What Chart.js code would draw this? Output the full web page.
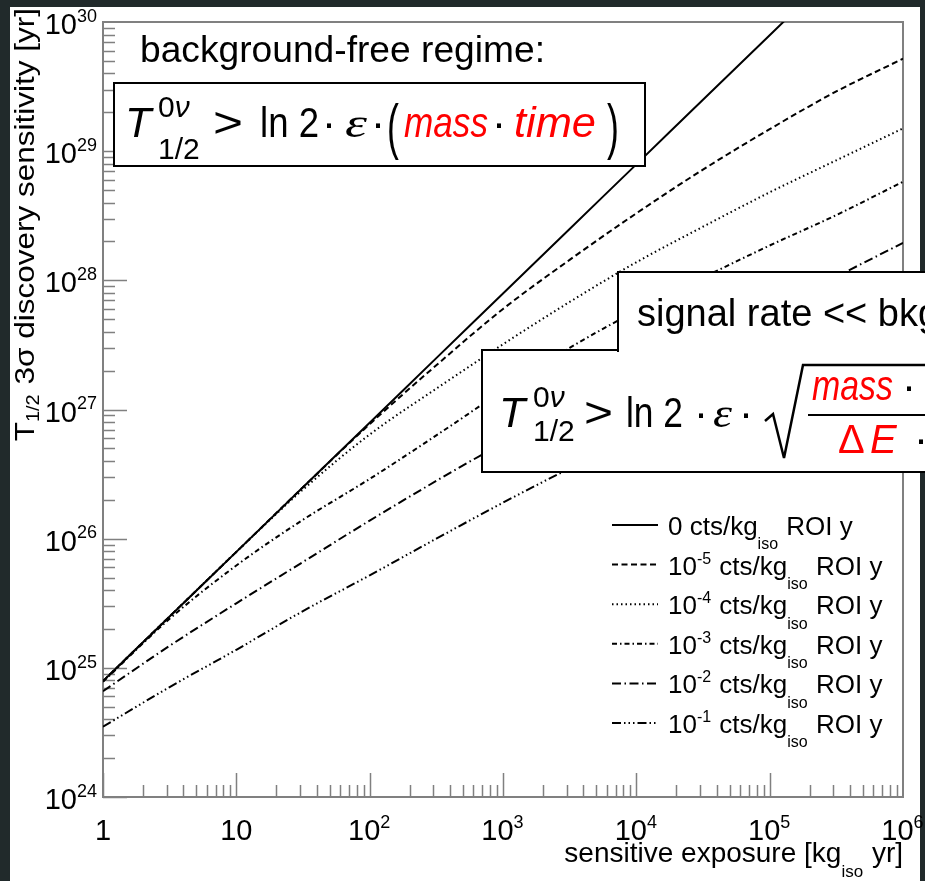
<!DOCTYPE html>
<html>
<head>
<meta charset="utf-8">
<title>T1/2 3 sigma discovery sensitivity</title>
<script src="https://cdn.jsdelivr.net/npm/chart.js@4.4.1/dist/chart.umd.min.js"></script>
<style>
  html, body { margin: 0; padding: 0; width: 925px; height: 881px; overflow: hidden; background: #212a2b; }
  #sheet { position: absolute; left: 10px; top: 7px; width: 910px; height: 874px; background: #fff; }
  #chart { position: absolute; left: 0; top: 0; }
  #notes { position: absolute; left: 0; top: 0; }
  #notes text { font-family: "Liberation Sans", Arial, sans-serif; fill: #000; }
  #notes .it { font-style: italic; }
  #notes .red { fill: #ff0000; }
  #notes .serif { font-family: "Liberation Serif", serif; }
</style>
</head>
<body>
<div id="sheet"></div>
<canvas id="chart" width="925" height="881"></canvas>
<svg id="notes" width="925" height="881" xmlns="http://www.w3.org/2000/svg">
  <text x="140" y="62" font-size="36" textLength="405" lengthAdjust="spacingAndGlyphs">background-free regime:</text>

  <rect x="114" y="83" width="531" height="83" fill="#fff" stroke="#000" stroke-width="2"/>
  <text x="125" y="137" font-size="43" class="it">T</text>
  <text x="158" y="117" font-size="30">0<tspan class="it">ν</tspan></text>
  <text x="158" y="159" font-size="30">1/2</text>
  <text x="213" y="137" font-size="42" textLength="30" lengthAdjust="spacingAndGlyphs">&gt;</text>
  <text x="260" y="137" font-size="42" textLength="59" lengthAdjust="spacingAndGlyphs">ln 2</text>
  <text x="322" y="137" font-size="42">·</text>
  <text x="345" y="137" font-size="42" class="it serif" textLength="22" lengthAdjust="spacingAndGlyphs">ε</text>
  <text x="371" y="137" font-size="42">·</text>
  <text transform="translate(387,147) scale(0.85,1.45)" font-size="42">(</text>
  <text x="404" y="137" font-size="42" class="it red" textLength="84" lengthAdjust="spacingAndGlyphs">mass</text>
  <text x="492" y="137" font-size="42">·</text>
  <text x="514" y="137" font-size="42" class="it red" textLength="82" lengthAdjust="spacingAndGlyphs">time</text>
  <text transform="translate(607,147) scale(0.85,1.45)" font-size="42">)</text>

  <rect x="482" y="350" width="460" height="122" fill="#fff" stroke="#000" stroke-width="2"/>
  <rect x="618" y="272" width="320" height="80" fill="#fff"/>
  <path d="M618,352 L618,272 L940,272" fill="none" stroke="#000" stroke-width="2"/>
  <text x="637" y="326" font-size="38">signal rate &lt;&lt; bkg</text>

  <text x="499" y="427" font-size="43" class="it">T</text>
  <text x="533" y="407" font-size="30">0<tspan class="it">ν</tspan></text>
  <text x="533" y="441" font-size="30">1/2</text>
  <text x="584" y="427" font-size="42" textLength="29" lengthAdjust="spacingAndGlyphs">&gt;</text>
  <text x="626" y="427" font-size="42" textLength="57" lengthAdjust="spacingAndGlyphs">ln 2</text>
  <text x="694" y="427" font-size="42">·</text>
  <text x="713" y="427" font-size="42" class="it serif" textLength="19" lengthAdjust="spacingAndGlyphs">ε</text>
  <text x="739" y="427" font-size="42">·</text>
  <path d="M765,421 L773,414 L784,458 L803,365 L930,365" fill="none" stroke="#000" stroke-width="2.5"/>
  <path d="M808,415 L930,415" fill="none" stroke="#000" stroke-width="2"/>
  <text x="812" y="400" font-size="42" class="it red" textLength="81" lengthAdjust="spacingAndGlyphs">mass</text>
  <text x="902" y="400" font-size="42">·</text>
  <text x="838" y="453" font-size="40" class="red">Δ</text>
  <text x="870" y="453" font-size="40" class="it red">E</text>
  <text x="914" y="453" font-size="42">·</text>
</svg>
<script>
// exposure in kg_iso yr, sensitivity in yr
const exposure   = [1, 3.16, 10, 31.6, 100, 316, 1e3, 3.16e3, 1e4, 3.16e4, 1e5, 3.16e5, 1e6];
const sensBkg0   = [7.9e24, 2.5e25, 7.9e25, 2.5e26, 7.9e26, 2.5e27, 7.9e27, 2.5e28, 7.9e28, 2.5e29, 7.9e29, 2.5e30, 7.9e30];
const sensBkg1e5 = [7.9e24, 2.5e25, 7.9e25, 2.5e26, 7.7e26, 2.2e27, 6.0e27, 1.44e28, 3.3e28, 7.2e28, 1.48e29, 2.9e29, 5.2e29];
const sensBkg1e4 = [7.9e24, 2.5e25, 7.9e25, 2.4e26, 6.4e26, 1.45e27, 3.2e27, 6.8e27, 1.38e28, 2.6e28, 4.8e28, 8.5e28, 1.5e29];
const sensBkg1e3 = [7.8e24, 2.4e25, 6.2e25, 1.4e26, 2.9e26, 6.3e26, 1.4e27, 3.0e27, 5.8e27, 1.05e28, 1.86e28, 3.2e28, 5.8e28];
const sensBkg1e2 = [6.6e24, 1.48e25, 3.16e25, 6.6e25, 1.38e26, 2.8e26, 5.5e26, 1.02e27, 1.86e27, 3.3e27, 6.0e27, 1.07e28, 1.95e28];
const sensBkg1e1 = [3.5e24, 7.1e24, 1.38e25, 2.75e25, 5.2e25, 1.0e26, 1.9e26, 3.5e26, 6.2e26, 1.1e27, 1.95e27, 3.5e27, 6.2e27];
const bkgExponent = [null, '-5', '-4', '-3', '-2', '-1'];
const xDecades = [0, 1, 2, 3, 4, 5, 6];
const yDecades = [24, 25, 26, 27, 28, 29, 30];

const fam = '"Liberation Sans", Arial, sans-serif';
const gray = '#808080';

function pts(ys) {
    return exposure.map(function(x, i) { return { x: x, y: ys[i] }; });
}

// draws text pieces: n = normal, sup = superscript, sub = subscript
function drawRich(ctx, parts, x, y, size, subShift) {
    var cx = x;
    var sd = subShift === undefined ? size * 0.55 : subShift;
    parts.forEach(function(p) {
        var kind = p[1];
        var s = kind === 'n' ? size : Math.round(size * 0.62);
        var dy = kind === 'sup' ? -size * 0.42 : (kind === 'sub' ? sd : 0);
        ctx.font = s + 'px ' + fam;
        ctx.fillText(p[0], cx, y + dy);
        cx += ctx.measureText(p[0]).width + (kind === 'n' ? 0 : 1);
    });
    return cx - x;
}
function richWidth(ctx, parts, size) {
    var w = 0;
    parts.forEach(function(p) {
        var s = p[1] === 'n' ? size : Math.round(size * 0.62);
        ctx.font = s + 'px ' + fam;
        w += ctx.measureText(p[0]).width + (p[1] === 'n' ? 0 : 1);
    });
    return w;
}
function powParts(d) {
    if (d === 0) return [['1', 'n']];
    if (d === 1) return [['10', 'n']];
    return [['10', 'n'], [String(d), 'sup']];
}

const rootAxes = {
    id: 'rootAxes',
    beforeDatasetsDraw: function(chart) {
        var ctx = chart.ctx, a = chart.chartArea;
        var xs = chart.scales.x, ys = chart.scales.y;
        ctx.save();
        ctx.strokeStyle = gray;
        ctx.lineWidth = 1.5;
        ctx.beginPath();
        for (var d = 0; d < 6; d++) {
            for (var k = 1; k < 10; k++) {
                var px = Math.round(xs.getPixelForValue(k * Math.pow(10, d))) + 0.5;
                ctx.moveTo(px, a.bottom);
                ctx.lineTo(px, a.bottom - (k === 1 ? 24 : 12));
            }
        }
        for (var e = 24; e < 30; e++) {
            for (var m = 1; m < 10; m++) {
                var py = Math.round(ys.getPixelForValue(m * Math.pow(10, e))) + 0.5;
                ctx.moveTo(a.left, py);
                ctx.lineTo(a.left + (m === 1 ? 24 : 12), py);
            }
        }
        ctx.stroke();
        ctx.lineWidth = 2;
        ctx.strokeRect(a.left, a.top, a.right - a.left, a.bottom - a.top);
        ctx.restore();
    },
    afterDatasetsDraw: function(chart) {
        var ctx = chart.ctx, a = chart.chartArea;
        var xs = chart.scales.x, ys = chart.scales.y;
        ctx.save();
        ctx.fillStyle = '#000';
        ctx.textAlign = 'left';
        ctx.textBaseline = 'alphabetic';

        // tick labels
        xDecades.forEach(function(d) {
            var parts = powParts(d);
            var w = richWidth(ctx, parts, 29);
            drawRich(ctx, parts, xs.getPixelForValue(Math.pow(10, d)) - w / 2, 840, 29);
        });
        yDecades.forEach(function(d) {
            var parts = [['10', 'n'], [String(d), 'sup']];
            var w = richWidth(ctx, parts, 29);
            drawRich(ctx, parts, 98 - w, ys.getPixelForValue(Math.pow(10, d)) + 12, 29);
        });

        // axis titles
        var xt = [['sensitive exposure [kg', 'n'], ['iso', 'sub'], [' yr]', 'n']];
        drawRich(ctx, xt, a.right - richWidth(ctx, xt, 28), 862, 28);

        var yt = [['T', 'n'], ['1/2', 'sub'], [' 3\u03c3 discovery sensitivity [yr]', 'n']];
        var yw = richWidth(ctx, yt, 31.5);
        ctx.save();
        ctx.translate(34, 8);
        ctx.rotate(-Math.PI / 2);
        ctx.scale(1, 0.9);
        drawRich(ctx, yt, -yw, 0, 31.5, 6);
        ctx.restore();

        // legend
        chart.data.datasets.forEach(function(ds, i) {
            var base = 535 + i * 39.6;
            ctx.save();
            ctx.strokeStyle = '#000';
            ctx.lineWidth = 2;
            ctx.setLineDash(ds.borderDash || []);
            ctx.beginPath();
            ctx.moveTo(612, base - 10);
            ctx.lineTo(658, base - 10);
            ctx.stroke();
            ctx.restore();
            var parts = bkgExponent[i] === null
                ? [['0 cts/kg', 'n'], ['iso', 'sub'], [' ROI y', 'n']]
                : [['10', 'n'], [bkgExponent[i], 'sup'], [' cts/kg', 'n'], ['iso', 'sub'], [' ROI y', 'n']];
            drawRich(ctx, parts, 668, base, 26);
        });
        ctx.restore();
    }
};

function line(label, ys, dash) {
    return {
        label: label,
        data: pts(ys),
        borderColor: '#000',
        borderWidth: 2,
        borderDash: dash,
        pointRadius: 0,
        fill: false,
        cubicInterpolationMode: 'monotone'
    };
}

var ctx = document.getElementById('chart').getContext('2d');
new Chart(ctx, {
    type: 'line',
    data: {
        datasets: [
            line('0 cts/kg ROI y', sensBkg0, []),
            line('1e-5 cts/kg ROI y', sensBkg1e5, [6, 3.5]),
            line('1e-4 cts/kg ROI y', sensBkg1e4, [1.5, 3]),
            line('1e-3 cts/kg ROI y', sensBkg1e3, [5, 3, 1.5, 3]),
            line('1e-2 cts/kg ROI y', sensBkg1e2, [9, 3.5, 1.5, 3.5]),
            line('1e-1 cts/kg ROI y', sensBkg1e1, [9, 3, 1.5, 3, 1.5, 3, 1.5, 3])
        ]
    },
    options: {
        responsive: false,
        animation: false,
        devicePixelRatio: 1,
        layout: { padding: { left: 103, top: 22, right: 22, bottom: 84 } },
        plugins: { legend: { display: false }, tooltip: { enabled: false } },
        scales: {
            x: { type: 'logarithmic', min: 1, max: 1e6, display: false },
            y: { type: 'logarithmic', min: 1e24, max: 1e30, display: false }
        }
    },
    plugins: [rootAxes]
});
</script>
</body>
</html>
